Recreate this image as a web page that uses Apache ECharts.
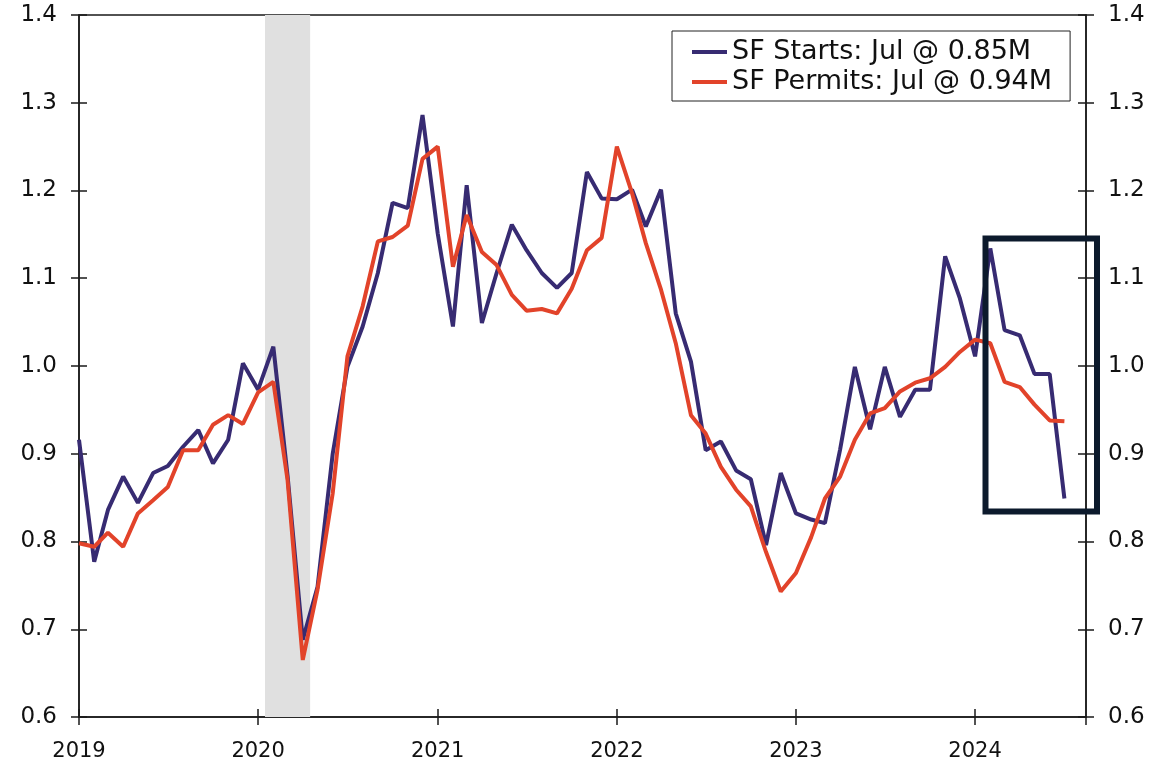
<html>
<head>
<meta charset="utf-8">
<script src="https://cdn.jsdelivr.net/npm/echarts@6/dist/echarts.min.js"></script>
<style>
html, body { margin: 0; padding: 0; background: #fff; }
#main { width: 1158px; height: 768px; }
</style>
</head>
<body>
<div id="main"></div>
<script>
var months = [
    '2019-01-01','2019-02-01','2019-03-01','2019-04-01','2019-05-01','2019-06-01','2019-07-01','2019-08-01','2019-09-01','2019-10-01','2019-11-01','2019-12-01',
    '2020-01-01','2020-02-01','2020-03-01','2020-04-01','2020-05-01','2020-06-01','2020-07-01','2020-08-01','2020-09-01','2020-10-01','2020-11-01','2020-12-01',
    '2021-01-01','2021-02-01','2021-03-01','2021-04-01','2021-05-01','2021-06-01','2021-07-01','2021-08-01','2021-09-01','2021-10-01','2021-11-01','2021-12-01',
    '2022-01-01','2022-02-01','2022-03-01','2022-04-01','2022-05-01','2022-06-01','2022-07-01','2022-08-01','2022-09-01','2022-10-01','2022-11-01','2022-12-01',
    '2023-01-01','2023-02-01','2023-03-01','2023-04-01','2023-05-01','2023-06-01','2023-07-01','2023-08-01','2023-09-01','2023-10-01','2023-11-01','2023-12-01',
    '2024-01-01','2024-02-01','2024-03-01','2024-04-01','2024-05-01','2024-06-01','2024-07-01'
];

// single-family starts, millions (SAAR)
var sfStarts = [
    0.916, 0.777, 0.836, 0.874, 0.844, 0.878, 0.886, 0.908, 0.927, 0.889, 0.916, 1.003,
    0.973, 1.022, 0.875, 0.688, 0.748, 0.900, 0.999, 1.045, 1.106, 1.186, 1.180, 1.286,
    1.151, 1.045, 1.206, 1.049, 1.106, 1.161, 1.132, 1.106, 1.089, 1.106, 1.221, 1.191,
    1.190, 1.201, 1.159, 1.201, 1.060, 1.005, 0.904, 0.914, 0.881, 0.871, 0.796, 0.878,
    0.832, 0.825, 0.821, 0.905, 0.999, 0.928, 0.999, 0.942, 0.973, 0.973, 1.125, 1.077,
    1.011, 1.134, 1.041, 1.035, 0.991, 0.991, 0.849
];

// single-family permits, millions (SAAR)
var sfPermits = [
    0.798, 0.794, 0.810, 0.794, 0.832, 0.847, 0.862, 0.904, 0.904, 0.933, 0.944, 0.934,
    0.970, 0.982, 0.870, 0.665, 0.745, 0.855, 1.011, 1.068, 1.142, 1.147, 1.160, 1.236,
    1.250, 1.113, 1.172, 1.130, 1.115, 1.081, 1.063, 1.065, 1.060, 1.088, 1.132, 1.146,
    1.250, 1.197, 1.140, 1.087, 1.026, 0.944, 0.923, 0.885, 0.859, 0.840, 0.788, 0.743,
    0.764, 0.805, 0.849, 0.874, 0.916, 0.946, 0.952, 0.971, 0.981, 0.986, 0.999, 1.016,
    1.030, 1.026, 0.982, 0.976, 0.956, 0.938, 0.937
];

var seriesNames = ['SF Starts: Jul @ 0.85M', 'SF Permits: Jul @ 0.94M'];
var recession = ['2020-01-15', '2020-04-16'];
var xRange = ['2019-01-01', '2024-08-14'];
var yRange = [0.6, 1.4, 0.1];

var chart = echarts.init(document.getElementById('main'));

var font = 'DejaVu Sans';
var axisColor = '#1a1a1a';
var YEAR = 365 * 24 * 3600 * 1000;

function pairs(vals) {
    return months.map(function (m, i) { return [m, vals[i]]; });
}

// two axes per side so the ticks cross the axis line
function yAx(pos, labels, inside) {
    return {
        type: 'value', position: pos,
        min: yRange[0], max: yRange[1], interval: yRange[2],
        axisLine: { show: labels, onZero: false, lineStyle: { color: axisColor, width: 1.5 } },
        axisTick: { show: true, inside: inside, length: 8, lineStyle: { color: axisColor, width: 1.5 } },
        axisLabel: {
            show: labels, margin: 22, color: '#111', fontFamily: font, fontSize: 23,
            formatter: function (v) { return v.toFixed(1); }
        },
        splitLine: { show: false }
    };
}
function xAx(labels, inside) {
    return {
        type: 'time', position: 'bottom',
        min: xRange[0], max: xRange[1],
        minInterval: YEAR, maxInterval: YEAR + 2 * 24 * 3600 * 1000,
        axisLine: { show: labels, onZero: false, lineStyle: { color: axisColor, width: 1.5 } },
        axisTick: { show: true, inside: inside, length: 8, lineStyle: { color: axisColor, width: 1.5 } },
        axisLabel: {
            show: labels, margin: 24, color: '#111', fontFamily: font, fontSize: 21,
            formatter: '{yyyy}', showMaxLabel: false
        },
        splitLine: { show: false }
    };
}

chart.setOption({
    animation: false,
    backgroundColor: '#fff',
    grid: {
        left: 79, right: 72, top: 15, bottom: 51,
        outerBoundsMode: 'none',
        show: true, borderColor: axisColor, borderWidth: 1.5
    },
    legend: {
        orient: 'vertical',
        left: 672, top: 31,
        padding: [6, 18, 4, 20],
        itemGap: 0,
        itemWidth: 35, itemHeight: 4,
        icon: 'rect',
        borderColor: '#222', borderWidth: 1,
        textStyle: { fontFamily: font, fontSize: 27, color: '#111', lineHeight: 30 },
        data: seriesNames
    },
    xAxis: [xAx(true, true), xAx(false, false)],
    yAxis: [yAx('left', true, false), yAx('right', true, false), yAx('left', false, true), yAx('right', false, true)],
    series: [{
        name: seriesNames[0],
        type: 'line',
        data: pairs(sfStarts),
        showSymbol: false,
        color: '#372b72',
        lineStyle: { width: 4, color: '#372b72' },
        markArea: {
            silent: true,
            itemStyle: { color: '#e0e0e0' },
            data: [[{ xAxis: recession[0] }, { xAxis: recession[1] }]]
        }
    }, {
        name: seriesNames[1],
        type: 'line',
        data: pairs(sfPermits),
        showSymbol: false,
        color: '#e2432a',
        lineStyle: { width: 4, color: '#e2432a' }
    }],
    graphic: [{
        type: 'rect',
        shape: { x: 985.5, y: 238.5, width: 111.5, height: 273 },
        style: { fill: null, stroke: '#0c1a2c', lineWidth: 6 },
        z: 100
    }]
});

window.onresize = chart.resize;
</script>
</body>
</html>
